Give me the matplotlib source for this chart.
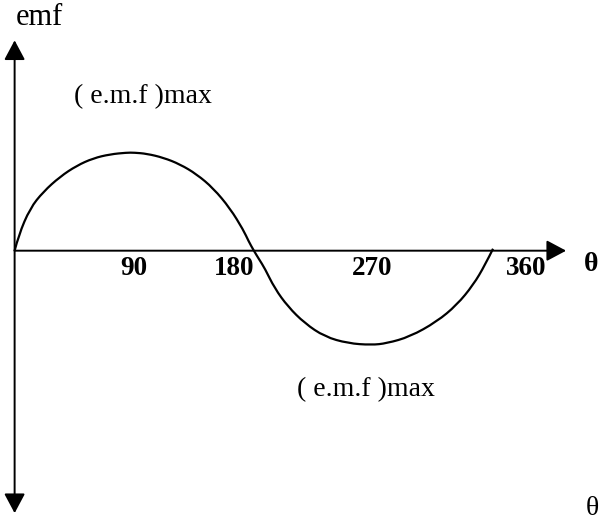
import numpy as np
import matplotlib
matplotlib.use("Agg")
import matplotlib.pyplot as plt
from matplotlib.patches import FancyArrowPatch, PathPatch
from matplotlib.path import Path

plt.rcParams['font.family'] = ['Liberation Serif', 'DejaVu Serif']

# hand-drawn emf wave (theta in degrees, emf in units of Em)
theta = [0, 3.0, 11.6, 21.6, 34.2, 46.7, 59.2, 71.8, 84.3, 90, 99.4,
         111.9, 124.5, 137.0, 149.5, 162.1, 172.1, 176.0, 180,
         184, 188.2, 195.7, 205.7, 218.3, 233.3, 250.9, 268.4, 280.0,
         297.5, 317.6, 332.7, 345.1, 354.0, 360]
emf = [0, 0.16, 0.439, 0.611, 0.767, 0.881, 0.958, 0.999, 1.016, 1.016, 1.005,
       0.964, 0.895, 0.792, 0.647, 0.439, 0.215, 0.10, 0,
       -0.09, -0.182, -0.390, -0.580, -0.752, -0.891, -0.960, -0.977, -0.960,
       -0.891, -0.736, -0.563, -0.355, -0.148, 0.02]

tick_labels = ['90', '180', '270', '360']
peak_label = '( e.m.f )max'

fig = plt.figure(figsize=(6.02, 5.2), dpi=100)
ax = fig.add_axes([0, 0, 1, 1])
ax.axis('off')
ax.set_xlim(-11.0, 442.0)
ax.set_ylim(-2.791, 2.598)

# smooth the read points with quadratic curve pieces (points act as control points)
pts = np.column_stack([theta, emf])
verts = [pts[0]]
codes = [Path.MOVETO]
for i in range(1, len(pts) - 1):
    end = pts[i + 1] if i == len(pts) - 2 else (pts[i] + pts[i + 1]) / 2
    verts += [pts[i], end]
    codes += [Path.CURVE3, Path.CURVE3]
ax.add_patch(PathPatch(Path(verts, codes), fill=False, edgecolor='black', lw=1.6))

# axes drawn as arrows
arr = dict(arrowstyle='-|>,head_length=0.6,head_width=0.32', mutation_scale=20,
           color='black', lw=1.4, shrinkA=0, shrinkB=0)
ax.add_patch(FancyArrowPatch((0, 0), (415, 0), **arr))
ax.add_patch(FancyArrowPatch((0, 0), (0, 2.18), **arr))
ax.add_patch(FancyArrowPatch((0, 0), (0, -2.72), **arr))

# tick labels under the theta axis
label_x = [89.8, 165, 269, 385]
for x, t in zip(label_x, tick_labels):
    ax.text(x, -0.18, t, fontsize=19.5, fontweight='bold', ha='center', va='center')

ax.text(434, -0.14, 'θ', fontsize=20, fontweight='bold', ha='center', va='center')
ax.text(18.4, 2.42, 'emf', fontsize=22, ha='center', va='center')
ax.text(96.7, 1.593, peak_label, fontsize=20, ha='center', va='center')
ax.text(264.4, -1.443, peak_label, fontsize=20, ha='center', va='center')
ax.text(430, -2.667, 'θ', fontsize=20, ha='left', va='center')

fig.savefig('out.png', dpi=100)
